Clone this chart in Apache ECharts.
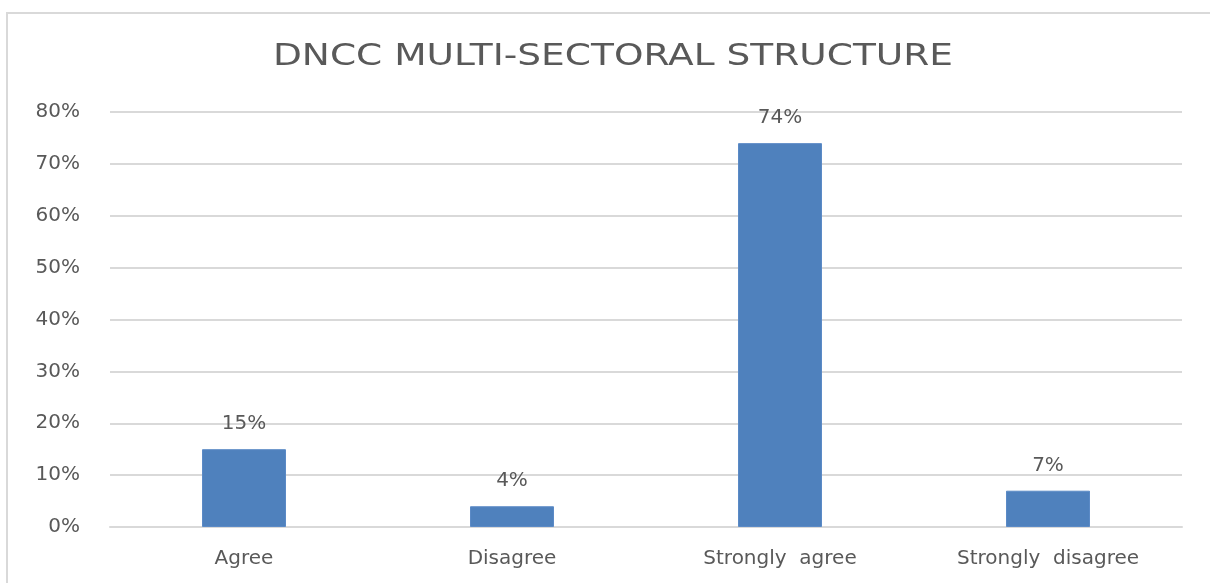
<!DOCTYPE html>
<html>
<head>
<meta charset="utf-8">
<script src="https://cdn.jsdelivr.net/npm/echarts@6/dist/echarts.min.js"></script>
<style>
  html, body { margin: 0; padding: 0; background: #ffffff; }
  #chart { width: 1210px; height: 583px; }
</style>
</head>
<body>
<div id="chart"></div>
<script>
// Survey responses on the DNCC multi-sectoral structure
const titleText = 'DNCC MULTI-SECTORAL STRUCTURE';
const categories = ['Agree', 'Disagree', 'Strongly  agree', 'Strongly  disagree'];
const shares = [15, 4, 74, 7];
const yTicks = [0, 10, 20, 30, 40, 50, 60, 70, 80];

const textColor = '#595959';
const fontFamily = '"DejaVu Sans", "Open Sans", sans-serif';

const chart = echarts.init(document.getElementById('chart'), null, { renderer: 'canvas' });

chart.setOption({
  backgroundColor: '#ffffff',
  animation: false,
  graphic: [
    {
      // outer chart frame
      type: 'rect',
      shape: { x: 7, y: 13, width: 1220, height: 600 },
      style: { fill: 'none', stroke: '#d9d9d9', lineWidth: 2 },
      silent: true
    },
    {
      // title, set in a slightly widened face
      type: 'text',
      x: 613,
      y: 57,
      scaleX: 1.21,
      scaleY: 1,
      style: {
        text: titleText,
        x: 0,
        y: 0,
        align: 'center',
        verticalAlign: 'middle',
        fill: textColor,
        font: 'normal 31px ' + fontFamily
      },
      silent: true
    }
  ],
  grid: { left: 110, right: 28, top: 112, bottom: 56, containLabel: false },
  xAxis: {
    type: 'category',
    data: categories,
    axisLine: { show: true, lineStyle: { color: '#d9d9d9', width: 2 } },
    axisTick: { show: false },
    axisLabel: { color: textColor, fontFamily: fontFamily, fontSize: 20, margin: 22 }
  },
  yAxis: {
    type: 'value',
    min: yTicks[0],
    max: yTicks[yTicks.length - 1],
    interval: 10,
    axisLine: { show: false },
    axisTick: { show: false },
    splitLine: { lineStyle: { color: '#d9d9d9', width: 2 } },
    axisLabel: { color: textColor, fontFamily: fontFamily, fontSize: 20, margin: 30, formatter: '{value}%' }
  },
  series: [{
    type: 'bar',
    data: shares,
    barWidth: 84,
    itemStyle: { color: '#4f81bd', borderColor: '#5b8ac6', borderWidth: 1 },
    label: {
      show: true,
      position: 'top',
      distance: 15,
      formatter: '{c}%',
      color: textColor,
      fontFamily: fontFamily,
      fontSize: 20
    }
  }]
});
</script>
</body>
</html>
